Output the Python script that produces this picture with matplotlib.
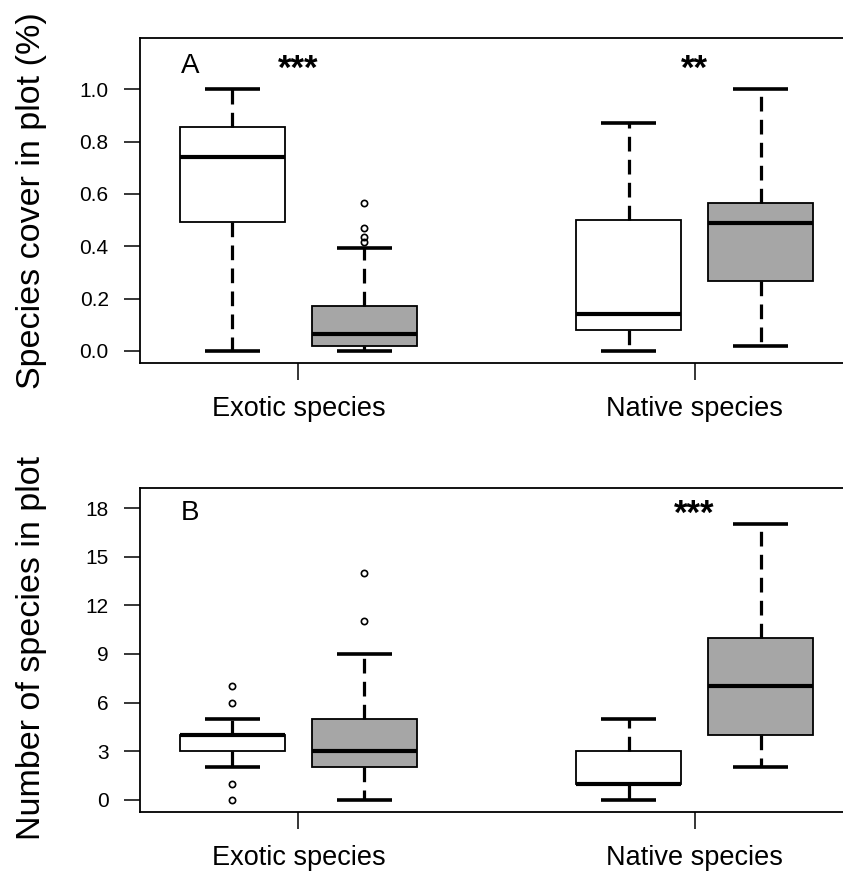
import matplotlib
matplotlib.use("Agg")
import matplotlib.pyplot as plt

plt.rcParams['font.family'] = ['Liberation Sans', 'DejaVu Sans']

# ---------------- data ----------------
groups = ["Exotic species", "Native species"]
box_colors = ["white", "#a6a6a6", "white", "#a6a6a6"]

# Panel A: species cover in plot
cover_whislo = [0.0, 0.0, 0.0, 0.019]
cover_q1 = [0.494, 0.018, 0.079, 0.267]
cover_med = [0.743, 0.064, 0.143, 0.488]
cover_q3 = [0.854, 0.171, 0.500, 0.566]
cover_whishi = [1.0, 0.395, 0.870, 1.0]
cover_fliers = [[], [0.564, 0.468, 0.436, 0.417], [], []]
cover_ticks = [0.0, 0.2, 0.4, 0.6, 0.8, 1.0]
cover_signif = ["***", "**"]

# Panel B: number of species in plot
rich_whislo = [2, 0, 0, 2]
rich_q1 = [3, 2, 1, 4]
rich_med = [4, 3, 1, 7]
rich_q3 = [4, 5, 3, 10]
rich_whishi = [5, 9, 5, 17]
rich_fliers = [[7, 6, 1, 0], [14, 11], [], []]
rich_ticks = [0, 3, 6, 9, 12, 15, 18]
rich_signif = ["", "***"]

W, H = 843, 873
fig = plt.figure(figsize=(W / 100, H / 100), dpi=100)

positions = [1, 2, 4, 5]
group_pos = [1.5, 4.5]


def make_stats(lo, q1, med, q3, hi, fl):
    return [dict(whislo=a, q1=b, med=c, q3=d, whishi=e, fliers=f)
            for a, b, c, d, e, f in zip(lo, q1, med, q3, hi, fl)]


def panel(rect, stats, ylim_data, ticks, ticklabels, ylabel, letter, letter_y, signif, sig_y, ylab_center):
    ax = fig.add_axes(rect)
    bp = ax.bxp(stats, positions=positions, widths=0.8, patch_artist=True,
                capwidths=0.42, showfliers=True,
                boxprops=dict(linewidth=1.3, edgecolor="black"),
                medianprops=dict(color="black", linewidth=3.0, solid_capstyle="butt"),
                whiskerprops=dict(color="black", linewidth=2.3, linestyle=(0, (4.6, 2.6))),
                capprops=dict(color="black", linewidth=2.6, solid_capstyle="butt"),
                flierprops=dict(marker="o", markersize=4.5, markerfacecolor="none",
                                markeredgecolor="black", markeredgewidth=1.2, linestyle="none"))
    for patch, c in zip(bp["boxes"], box_colors):
        patch.set_facecolor(c)
    lo, hi = ylim_data
    ext = 0.04 * (hi - lo)
    ax.set_ylim(lo - ext, hi + ext)
    ax.set_xlim(0.3, 5.7)
    ax.set_yticks(ticks)
    ax.set_yticklabels(ticklabels, fontsize=15)
    ax.set_xticks(group_pos)
    ax.set_xticklabels(groups, fontsize=19.5)
    ax.tick_params(axis="y", direction="out", length=11.5, width=1.1, pad=11)
    ax.tick_params(axis="x", direction="out", length=12, width=1.1, pad=12)
    for s in ax.spines.values():
        s.set_linewidth(1.3)
    ax.text(0.68, letter_y, letter, fontsize=20, ha="center", va="center")
    for gx, s in zip(group_pos, signif):
        if s:
            ax.text(gx, sig_y, s, fontsize=25, fontweight="bold", ha="center", va="center")
    fig.text(32 / W, ylab_center, ylabel, rotation=90, fontsize=24.5,
             ha="center", va="center")
    return ax


# Panel A
topA, botA = 38, 363
panel([140 / W, 1 - botA / H, (853 - 140) / W, (botA - topA) / H],
      make_stats(cover_whislo, cover_q1, cover_med, cover_q3, cover_whishi, cover_fliers),
      (0, 1.15), cover_ticks, ["%.1f" % t for t in cover_ticks],
      "Species cover in plot (%)", "A", 1.088, cover_signif, 1.075,
      1 - 201 / H)

# Panel B
topB, botB = 488, 811.7
panel([140 / W, 1 - botB / H, (853 - 140) / W, (botB - topB) / H],
      make_stats(rich_whislo, rich_q1, rich_med, rich_q3, rich_whishi, rich_fliers),
      (0, 18.5), rich_ticks, [str(t) for t in rich_ticks],
      "Number of species in plot", "B", 17.7, rich_signif, 17.6,
      1 - 648 / H)

fig.savefig("out.png", dpi=100)
